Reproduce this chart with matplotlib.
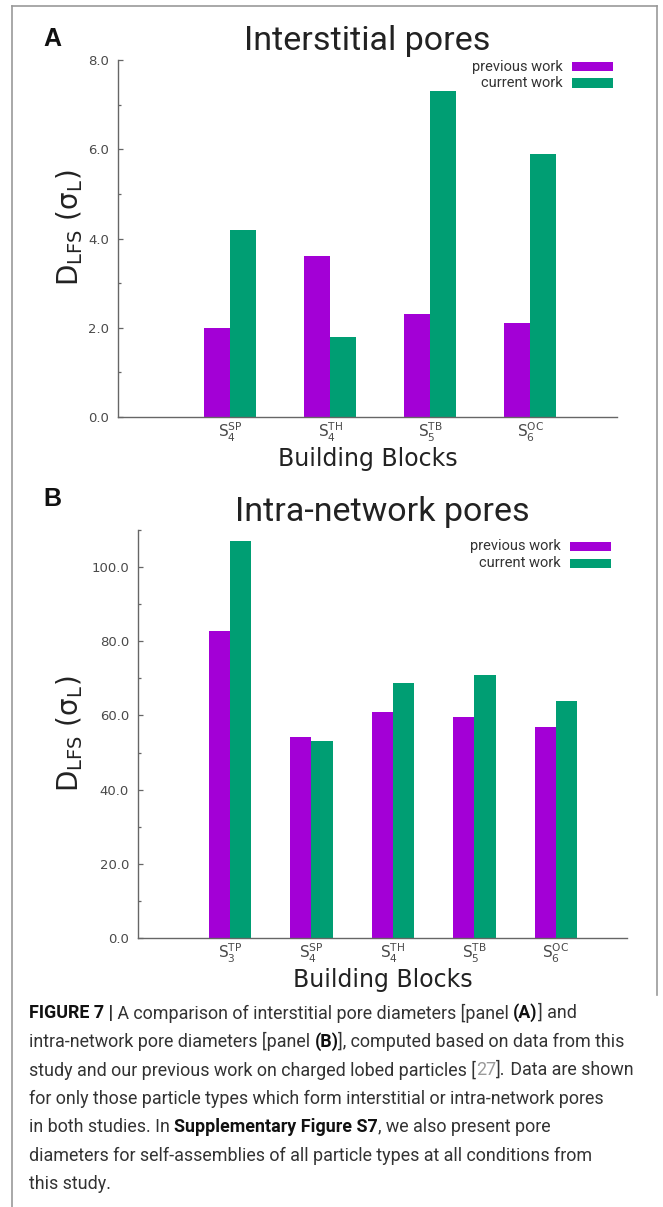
import matplotlib
matplotlib.use('Agg')
import matplotlib.pyplot as plt
import numpy as np
from matplotlib import font_manager as fm
from matplotlib.lines import Line2D
from matplotlib.patches import Rectangle
from matplotlib.font_manager import FontProperties

# ---------------- data ----------------
cats_a = [r'$\mathregular{S_4^{SP}}$', r'$\mathregular{S_4^{TH}}$',
          r'$\mathregular{S_5^{TB}}$', r'$\mathregular{S_6^{OC}}$']
prev_a = [2.0, 3.6, 2.3, 2.1]
curr_a = [4.2, 1.8, 7.3, 5.9]
yticks_a = [0, 2, 4, 6, 8]
yticklabels_a = ['0.0', '2.0', '4.0', '6.0', '8.0']

cats_b = [r'$\mathregular{S_3^{TP}}$', r'$\mathregular{S_4^{SP}}$', r'$\mathregular{S_4^{TH}}$',
          r'$\mathregular{S_5^{TB}}$', r'$\mathregular{S_6^{OC}}$']
prev_b = [82.7, 54.1, 60.8, 59.5, 57.0]
curr_b = [107.0, 53.2, 68.8, 70.8, 63.9]
yticks_b = [0, 20, 40, 60, 80, 100]
yticklabels_b = ['0.0', '20.0', '40.0', '60.0', '80.0', '100.0']

series_labels = ['previous work', 'current work']
titles = ['Interstitial pores', 'Intra-network pores']
panel_letters = ['A', 'B']
xlabel = 'Building Blocks'
ylabel = r'$\mathregular{D_{LFS}\ (σ_L)}$'

caption_lines = [
    [('FIGURE 7 |', True, '#111111'), (' A comparison of interstitial pore diameters [panel ', False, '#333333'),
     ('(A)', True, '#111111'), ('] and', False, '#333333')],
    [('intra-network pore diameters [panel ', False, '#333333'), ('(B)', True, '#111111'),
     ('], computed based on data from this', False, '#333333')],
    [('study and our previous work on charged lobed particles [', False, '#333333'),
     ('27', False, '#9a9a9a'), ('].', False, '#333333'), (' Data are shown', False, '#333333')],
    [('for only those particle types which form interstitial or intra-network pores', False, '#333333')],
    [('in both studies. In ', False, '#333333'), ('Supplementary Figure S7', True, '#111111'),
     (', we also present pore', False, '#333333')],
    [('diameters for self-assemblies of all particle types at all conditions from', False, '#333333')],
    [('this study.', False, '#333333')],
]

# ---------------- style ----------------
names = {f.name for f in fm.fontManager.ttflist}
def pick(*cands):
    for c in cands:
        if c in names:
            return c
    return 'DejaVu Sans'

TITLE_FONT = pick('Roboto')
LEG_FONT = pick('Roboto')
CAP_FONT = pick('Liberation Sans Narrow', 'Roboto')
LET_FONT = pick('Liberation Sans')

plt.rcParams['font.family'] = ['DejaVu Sans']
plt.rcParams['mathtext.fontset'] = 'custom'
plt.rcParams['mathtext.rm'] = 'DejaVu Sans'

PURPLE = '#a300d6'
GREEN = '#009e73'
AXC = '#666666'
TXT = '#4a4a4a'

W, H = 663, 1207
fig = plt.figure(figsize=(W / 100, H / 100), dpi=100)
fig.patch.set_facecolor('white')

def fx(px):
    return px / W
def fy(py):
    return 1 - py / H

# frame
fig.add_artist(Line2D([fx(12), fx(12)], [fy(6), fy(1207)], transform=fig.transFigure, color='#999999', lw=1.2))
fig.add_artist(Line2D([fx(12), fx(657)], [fy(6), fy(6)], transform=fig.transFigure, color='#999999', lw=1.2))
fig.add_artist(Line2D([fx(657), fx(657)], [fy(6), fy(995)], transform=fig.transFigure, color='#999999', lw=1.2))

panels = [
    dict(rect=(118, 60, 617, 417), cats=cats_a, prev=prev_a, curr=curr_a, ylim=(0, 8),
         yt=yticks_a, ytl=yticklabels_a, minor=np.arange(1, 8, 2),
         title_y=50, letter_xy=(52, 46), leg_y=(66.5, 83), leg_x=(563, 572, 613),
         xl_y=459, yl_y=228),
    dict(rect=(138, 530, 627, 938), cats=cats_b, prev=prev_b, curr=curr_b, ylim=(0, 110),
         yt=yticks_b, ytl=yticklabels_b, minor=np.arange(10, 111, 20),
         title_y=521, letter_xy=(52, 506), leg_y=(546, 563), leg_x=(561, 570, 611),
         xl_y=980, yl_y=734),
]

w = 0.26
for i, p in enumerate(panels):
    l, t, r, b = p['rect']
    ax = fig.add_axes([fx(l), fy(b), (r - l) / W, (b - t) / H])
    n = len(p['cats'])
    x = np.arange(n)
    ax.bar(x - w / 2, p['prev'], w, color=PURPLE, linewidth=0)
    ax.bar(x + w / 2, p['curr'], w, color=GREEN, linewidth=0)
    ax.set_xlim(-1.125, n - 1 + 0.87)
    ax.set_ylim(*p['ylim'])
    for s in ['top', 'right']:
        ax.spines[s].set_visible(False)
    for s in ['left', 'bottom']:
        ax.spines[s].set_color(AXC)
        ax.spines[s].set_linewidth(1.0)
    ax.set_yticks(p['yt'])
    ax.set_yticklabels(p['ytl'])
    ax.set_yticks(p['minor'], minor=True)
    ax.tick_params(axis='y', which='major', direction='in', length=3.6, width=0.9, color=AXC,
                   labelcolor=TXT, labelsize=9.5, pad=6.5)
    ax.tick_params(axis='y', which='minor', direction='in', length=1.8, width=0.9, color=AXC)
    ax.set_xticks(x)
    ax.set_xticklabels(p['cats'])
    ax.tick_params(axis='x', length=0, labelcolor=TXT, labelsize=11, pad=3)

    cx = (l + r) / 2
    fig.text(fx(cx), fy(p['title_y']), titles[i], family=TITLE_FONT, fontsize=24.5,
             color='#222222', ha='center', va='baseline')
    fig.text(fx(p['letter_xy'][0]), fy(p['letter_xy'][1]), panel_letters[i], family=LET_FONT,
             fontsize=18, weight='bold', color='#111111', ha='center', va='baseline')
    fig.text(fx(cx), fy(p['xl_y']), xlabel, fontsize=17, color='#222222', ha='center', va='center')
    fig.text(fx(70), fy(p['yl_y']), ylabel, fontsize=20, color='#222222', ha='center', va='center',
             rotation=90)
    # legend
    tx, sx0, sx1 = p['leg_x']
    for j, lab in enumerate(series_labels):
        yy = p['leg_y'][j]
        fig.text(fx(tx), fy(yy), lab, family=LEG_FONT, fontsize=10.5, color='#333333',
                 ha='right', va='center')
        fig.add_artist(Rectangle((fx(sx0), fy(yy + 4.5)), (sx1 - sx0) / W, 9 / H,
                                 transform=fig.transFigure, color=[PURPLE, GREEN][j], lw=0))

# ---------------- caption ----------------
renderer = fig.canvas.get_renderer()
def tw(s, size, bold):
    fp = FontProperties(family=CAP_FONT, size=size, weight='bold' if bold else 'normal')
    w1, _, _ = renderer.get_text_width_height_descent(s + 'x', fp, ismath=False)
    w2, _, _ = renderer.get_text_width_height_descent('x', fp, ismath=False)
    return w1 - w2

ref_line = caption_lines[2]
base = sum(tw(s, 10, bb) for s, bb, c in ref_line)
cap_size = 10 * 605 / base

y0 = 1013
dy = 28.5
for k, runs in enumerate(caption_lines):
    xpx = 29
    ypx = y0 + k * dy
    for s, bb, c in runs:
        fig.text(fx(xpx), fy(ypx), s, family=CAP_FONT, fontsize=cap_size,
                 weight='bold' if bb else 'normal', color=c, ha='left', va='center')
        xpx += tw(s, cap_size, bb)

fig.savefig('out.png', dpi=100, facecolor='white')
